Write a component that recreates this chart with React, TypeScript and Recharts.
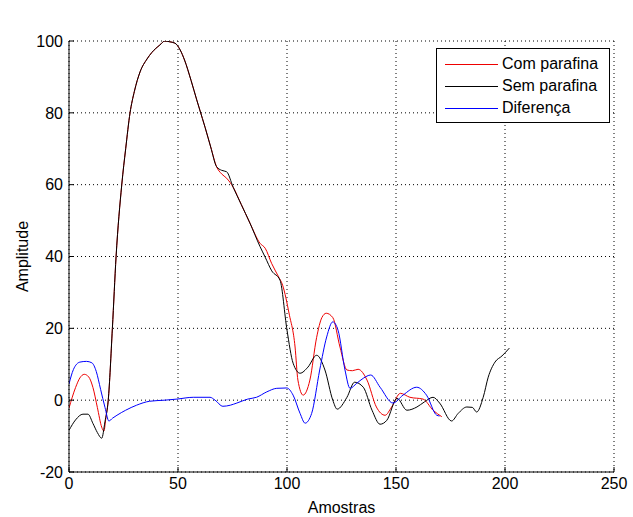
import React from 'react';
import { LineChart, Line, XAxis, YAxis, CartesianGrid, Legend } from 'recharts';

// Amplitude traces, sampled where the curve bends
const COM_X = [0, 3, 5, 7, 9, 11, 13, 15, 16, 17, 18, 19.9, 21.6, 24.2, 26, 28, 30, 32.6, 35.8, 38, 41.7, 44, 46, 48.6, 51, 53, 56, 58.6, 60, 62.4, 65, 67.7, 70, 72.3, 75.3, 79, 83, 87.6, 90, 93, 96, 98, 101, 103.7, 105, 107.4, 110.5, 113.6, 116, 118, 121, 124.3, 127.5, 130, 132.6, 136.7, 141, 145, 148, 152, 156.4, 162.4, 167, 171];
const COM_Y = [-2.2, 3.5, 6.2, 7.2, 6.5, 3.5, -2, -7.5, -8.6, -4.5, 0, 20, 40, 60, 70, 80, 86, 91.4, 95, 96.8, 98.9, 100, 99.8, 99.4, 97.5, 94.7, 89, 83.6, 80.8, 76, 70.5, 65, 63, 61.8, 59.3, 54.5, 49.3, 43.7, 42.3, 38, 34.5, 32, 24, 14.8, 5.6, 1.4, 5.6, 17.5, 23, 24.2, 23, 14.8, 8.4, 8.2, 8.6, 5.6, -1.9, -4.2, -1.9, 1.9, 0.8, 0.3, -2.8, -4.6];

const SEM_X = [0, 3, 6.4, 8.7, 11, 13, 15, 16.5, 18, 19.9, 21.6, 24.2, 26, 28, 30, 32.6, 35.8, 38, 41.7, 44, 46, 48.6, 51, 53, 56, 58.6, 60, 62.4, 65, 67.7, 70, 72.3, 75.3, 79, 83, 87.6, 90, 93, 96.8, 100, 102.8, 106, 109.6, 113.6, 117.4, 121, 123, 127.5, 131, 135, 139, 142.7, 145.8, 150.5, 155, 159.6, 163, 167, 170, 175.5, 178.5, 182.5, 185, 187, 190, 192.3, 195.4, 198.6, 202];
const SEM_Y = [-8.4, -5.5, -3.9, -3.9, -6.5, -9, -10.6, -6, 0, 20, 40, 60, 70, 80, 86, 91.4, 95, 96.8, 98.9, 100, 99.8, 99.4, 97.5, 94.7, 89, 83.6, 80.8, 76, 70.5, 65, 64, 63.6, 59.3, 54.5, 49.3, 42.8, 39.8, 36, 33.4, 19.5, 10.3, 7.5, 9.2, 12.5, 8.4, 0, -2.5, 0.8, 5, 3.6, -2.8, -6.7, -5.6, 0.5, -2.8, -1.9, -0.5, 0.8, -0.8, -5.8, -3.7, -1.9, -2, -3.3, 0.8, 6.4, 10.6, 12.3, 14.5];

const DIF_X = [0, 2, 5, 8, 10.5, 12.5, 14.5, 16.5, 18.3, 20, 22, 26, 31, 37, 44, 49.5, 57, 64.7, 67, 70.6, 74, 77, 82, 86, 90.7, 95.3, 99.9, 102.8, 106, 108.3, 111.3, 115, 118.2, 121, 123.4, 126.6, 128.9, 132, 135, 138.4, 142.7, 148.6, 153.2, 159.5, 164, 168.7, 170];
const DIF_Y = [4.5, 8.5, 10.6, 10.8, 10.4, 8, 3, -2, -5.8, -5, -4.2, -2.8, -1.4, -0.3, 0, 0.3, 0.8, 0.8, 0, -1.7, -1.4, -0.8, 0.3, 0.8, 2.3, 3.3, 3.4, 1.4, -3.7, -6.4, -3.7, 8.4, 17.6, 21.8, 19.5, 8.4, 3.3, 4.7, 6.1, 7, 3.6, -0.8, 1.4, 3.6, 1.4, -4.2, -4.4];

const X_TICKS = [0, 50, 100, 150, 200, 250];
const Y_TICKS = [-20, 0, 20, 40, 60, 80, 100];

const SERIES = [
  { name: 'Com parafina', color: '#ee0000', xs: COM_X, ys: COM_Y },
  { name: 'Sem parafina', color: '#000000', xs: SEM_X, ys: SEM_Y },
  { name: 'Diferença', color: '#0000ff', xs: DIF_X, ys: DIF_Y },
];

const toPoints = (xs: number[], ys: number[]) => xs.map((x, i) => ({ x, y: ys[i] }));

const FONT = '"Liberation Sans", Arial, sans-serif';
const tickStyle = { fill: '#000', fontSize: 16, fontFamily: FONT };

const LegendBox = () => (
  <div
    style={{
      border: '1px solid #000',
      background: '#fff',
      width: 172,
      padding: '4px 0 3px 0',
      fontFamily: FONT,
      fontSize: 16,
      color: '#000',
    }}
  >
    {SERIES.map((s) => (
      <div key={s.name} style={{ display: 'flex', alignItems: 'center', height: 22 }}>
        <svg width={53} height={3} style={{ marginLeft: 8, marginRight: 4 }}>
          <line x1={0} y1={1.5} x2={53} y2={1.5} stroke={s.color} strokeWidth={1} />
        </svg>
        <span>{s.name}</span>
      </div>
    ))}
  </div>
);

export default function App() {
  return (
    <div style={{ position: 'absolute', left: 0, top: 0, width: 633, height: 517, background: '#fff', fontFamily: FONT }}>
      <LineChart width={633} height={517} margin={{ top: 41, right: 19, bottom: 15, left: 9 }}>
        <CartesianGrid stroke="#000" strokeDasharray="1 3" />
        <XAxis
          dataKey="x"
          type="number"
          domain={[0, 250]}
          ticks={X_TICKS}
          height={30}
          stroke="#000"
          tickSize={-5}
          tickMargin={11}
          tick={tickStyle}
          allowDataOverflow
          label={{ value: 'Amostras', position: 'bottom', offset: 0, fill: '#000', fontSize: 16, fontFamily: FONT }}
        />
        <XAxis
          xAxisId="top"
          dataKey="x"
          type="number"
          orientation="top"
          domain={[0, 250]}
          ticks={X_TICKS}
          height={0}
          stroke="#000"
          tickSize={-5}
          tick={false}
          label={{ value: 'Resultado do Método de Inversão 24,22mm Parafina-USP', position: 'top', offset: 17, fill: '#000', fontSize: 16, fontFamily: FONT }}
        />
        <YAxis
          type="number"
          domain={[-20, 100]}
          ticks={Y_TICKS}
          width={60}
          stroke="#000"
          tickSize={-5}
          tickMargin={11}
          tick={tickStyle}
          allowDataOverflow
          label={{ value: 'Amplitude', angle: -90, position: 'insideLeft', offset: 13, fill: '#000', fontSize: 16, fontFamily: FONT, style: { textAnchor: 'middle' } }}
        />
        <YAxis
          yAxisId="right"
          type="number"
          orientation="right"
          domain={[-20, 100]}
          ticks={Y_TICKS}
          width={0}
          stroke="#000"
          tickSize={-5}
          tick={false}
        />
        {SERIES.map((s) => (
          <Line
            key={s.name}
            name={s.name}
            data={toPoints(s.xs, s.ys)}
            dataKey="y"
            type="monotone"
            stroke={s.color}
            strokeWidth={1}
            dot={false}
            isAnimationActive={false}
          />
        ))}
        <Legend
          layout="vertical"
          align="center"
          verticalAlign="middle"
          content={() => <LegendBox />}
          wrapperStyle={{ left: 436, top: 48, width: 174 }}
        />
      </LineChart>
    </div>
  );
}
